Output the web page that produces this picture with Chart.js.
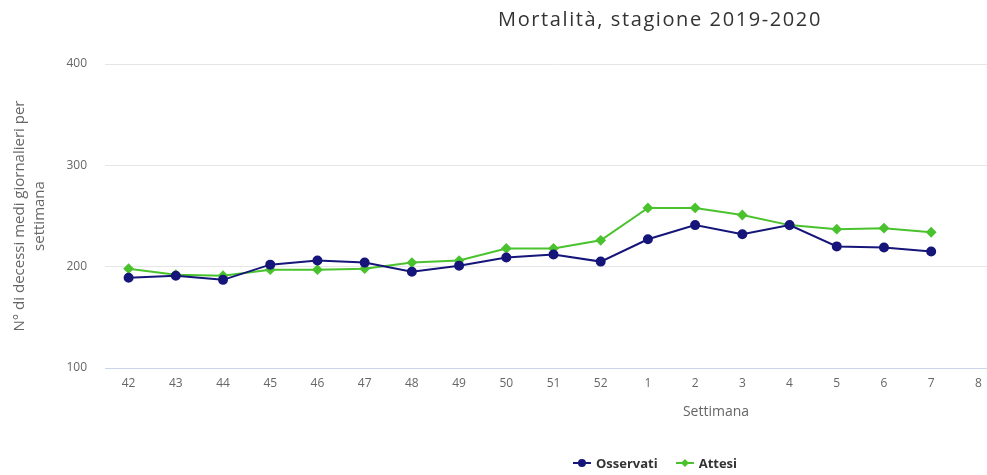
<!DOCTYPE html>
<html>
<head>
<meta charset="utf-8">
<script src="https://cdn.jsdelivr.net/npm/chart.js@4"></script>
<style>
  html, body { margin: 0; padding: 0; background: #fff; overflow: hidden; }
  #wrap { position: relative; width: 987px; height: 475px; overflow: hidden; font-family: "Open Sans", "DejaVu Sans", sans-serif; }
  #box { position: absolute; left: 0; top: 0; width: 1010px; height: 475px; }
  .lbl { position: absolute; white-space: nowrap; transform: translateX(-50%); }
  #title { left: 660px; top: 5px; font-size: 20px; letter-spacing: 1.6px; color: #333; }
  #xtitle { left: 716px; top: 401px; font-size: 14px; color: #666; }
  #legend { left: 655px; top: 454px; font-size: 13px; font-weight: bold; color: #333; display: flex; align-items: center; }
  #legend span { display: inline-flex; align-items: center; margin: 0 9px; }
  #legend svg { margin-right: 5px; }
</style>
</head>
<body>
<div id="wrap">
  <div id="box"><canvas id="myChart" width="1010" height="475"></canvas></div>
  <div id="title" class="lbl">Mortalità, stagione 2019-2020</div>
  <div id="xtitle" class="lbl">Settimana</div>
  <div id="legend" class="lbl">
    <span><svg width="18" height="10"><line x1="0" y1="5" x2="18" y2="5" stroke="#15157a" stroke-width="2"/><circle cx="9" cy="5" r="4" fill="#15157a"/></svg>Osservati</span>
    <span><svg width="18" height="10"><line x1="0" y1="5" x2="18" y2="5" stroke="#4ac22e" stroke-width="2"/><path d="M9 1 L13 5 L9 9 L5 5 Z" fill="#4ac22e"/></svg>Attesi</span>
  </div>
</div>
<script>
const weeks = ['42', '43', '44', '45', '46', '47', '48', '49', '50', '51', '52', '1', '2', '3', '4', '5', '6', '7', '8'];
const osservati = [189, 191, 187, 202, 206, 204, 195, 201, 209, 212, 205, 227, 241, 232, 241, 220, 219, 215, null];
const attesi = [198, 192, 191, 197, 197, 198, 204, 206, 218, 218, 226, 258, 258, 251, 241, 237, 238, 234, null];
const yTicks = [100, 200, 300, 400];

function add_chart(){
    const data = {
        labels: weeks,
        datasets: [{
          label: 'Osservati',
          backgroundColor: '#15157a',
          borderColor: '#15157a',
          borderWidth: 2,
          pointStyle: 'circle',
          pointRadius: 4,
          data: osservati
        }, {
          label: 'Attesi',
          backgroundColor: '#4ac22e',
          borderColor: '#4ac22e',
          borderWidth: 2,
          pointStyle: 'rectRot',
          pointRadius: 4,
          data: attesi
        }]
    };
    const config = {
        type: 'line',
        data: data,
        options: {
          responsive: false,
          animation: false,
          layout: {padding: {top: 64, right: 8, left: 0, bottom: 0}},
          plugins: {legend: {display: false}, title: {display: false}, tooltip: {enabled: false}},
          scales: {
            x: {
              offset: true,
              grid: {display: false, drawTicks: false},
              border: {display: true, color: '#ccd6eb'},
              ticks: {color: '#666', font: {size: 12, family: 'Open Sans'}, padding: 8, maxRotation: 0, autoSkip: false},
              afterFit: function(axis){ axis.height = 107; }
            },
            y: {
              min: 100,
              max: 400,
              afterBuildTicks: function(axis){ axis.ticks = yTicks.map(function(v){ return {value: v}; }); },
              grid: {color: '#e6e6e6', drawTicks: false},
              border: {display: false},
              ticks: {color: '#666', font: {size: 12, family: 'Open Sans'}, padding: 18},
              title: {
                display: true,
                text: ['N° di decessi medi giornalieri per', 'settimana'],
                color: '#666',
                font: {size: 15, family: 'Open Sans', lineHeight: 1.3},
                padding: {top: 10, bottom: 0}
              },
              afterFit: function(axis){ axis.width = 105; }
            }
          }
        }
    };
    const ctx = document.getElementById('myChart').getContext('2d');
    const myChart = new Chart(ctx, config);
}

add_chart();
</script>
</body>
</html>
